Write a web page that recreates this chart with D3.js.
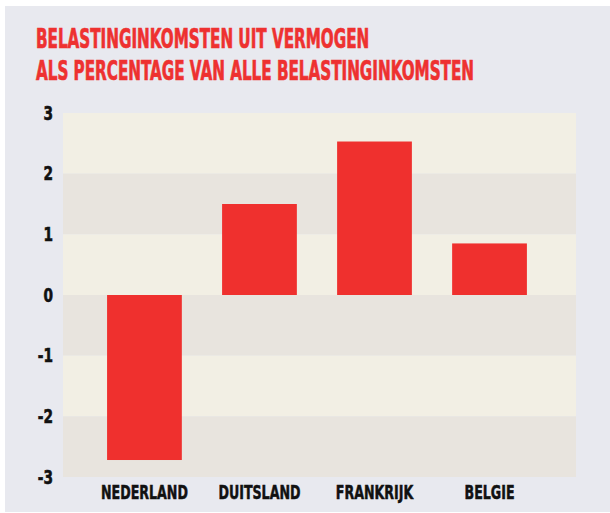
<!DOCTYPE html>
<html>
<head>
<meta charset="utf-8">
<script src="https://cdn.jsdelivr.net/npm/d3@7"></script>
<style>
  body { margin: 0; background: #fff; }
  text { font-family: "DejaVu Sans Condensed", "DejaVu Sans", sans-serif; font-weight: bold; font-stretch: condensed; }
</style>
</head>
<body>
<svg id="chart" width="610" height="513"></svg>
<script>
let titleLines = ['BELASTINGINKOMSTEN UIT VERMOGEN', 'ALS PERCENTAGE VAN ALLE BELASTINGINKOMSTEN'];
let countries = ['NEDERLAND', 'DUITSLAND', 'FRANKRIJK', 'BELGIE'];
let values = [-2.72, 1.5, 2.53, 0.85];
let ticks = [3, 2, 1, 0, -1, -2, -3];

let margin = {top: 113, left: 63, right: 34, bottom: 36};
let svgWidth = 610, svgHeight = 513;
let width = svgWidth - margin.left - margin.right;
let height = svgHeight - margin.top - margin.bottom;

let svg = d3.select('#chart');

// squeeze text horizontally, the original uses a very narrow type
function squeeze(sel, f) {
    sel.each(function() {
        let t = d3.select(this);
        let x = +t.attr('x') || 0;
        t.attr('x', x / f).attr('transform', `scale(${f},1)`);
    });
}

svg.append('rect')
    .attr('x', 5).attr('y', 6)
    .attr('width', svgWidth - 5).attr('height', svgHeight - 7)
    .attr('fill', '#e8e9ef');

svg.selectAll('.title')
    .data(titleLines)
    .enter()
    .append('text')
    .attr('class', 'title')
    .attr('x', 36)
    .attr('y', (d, i) => 48 + i * 32)
    .attr('fill', '#ee3130')
    .attr('stroke', '#ee3130')
    .attr('stroke-width', 0.7)
    .attr('font-size', 27)
    .text(d => d)
    .call(squeeze, 0.625);

let g = svg.append('g').attr('transform', `translate(${margin.left},${margin.top})`);

let yScale = d3.scaleLinear().domain([-3, 3]).range([height, 0]);
let xScale = d3.scaleBand().domain(countries).range([0, width])
    .paddingInner(0.35).paddingOuter(0.405).align(0.473);

// alternating bands
g.selectAll('.band')
    .data(ticks.slice(0, -1))
    .enter()
    .append('rect')
    .attr('class', 'band')
    .attr('x', 0)
    .attr('y', d => yScale(d))
    .attr('width', width)
    .attr('height', d => yScale(d - 1) - yScale(d))
    .attr('fill', (d, i) => i % 2 === 0 ? '#f2efe4' : '#e8e4de');

g.selectAll('.bar')
    .data(values)
    .enter()
    .append('rect')
    .attr('class', 'bar')
    .attr('x', (d, i) => xScale(countries[i]))
    .attr('y', d => yScale(Math.max(0, d)))
    .attr('width', xScale.bandwidth())
    .attr('height', d => Math.abs(yScale(d) - yScale(0)))
    .attr('fill', '#ef302e');

let yAxis = g.append('g')
    .call(d3.axisLeft(yScale).tickValues(ticks).tickSize(0).tickPadding(10).tickFormat(d => String(d)));
yAxis.select('.domain').remove();
yAxis.attr('font-family', null);
yAxis.selectAll('text')
    .attr('font-size', 19)
    .attr('fill', '#111')
    .attr('stroke', '#111')
    .attr('stroke-width', 0.6)
    .call(squeeze, 0.8);

let xAxis = g.append('g')
    .attr('transform', `translate(0,${height})`)
    .call(d3.axisBottom(xScale).tickSize(0).tickPadding(9));
xAxis.select('.domain').remove();
xAxis.attr('font-family', null);
xAxis.selectAll('text')
    .attr('font-size', 19)
    .attr('fill', '#111')
    .attr('stroke', '#111')
    .attr('stroke-width', 0.5)
    .call(squeeze, 0.74);
</script>
</body>
</html>
